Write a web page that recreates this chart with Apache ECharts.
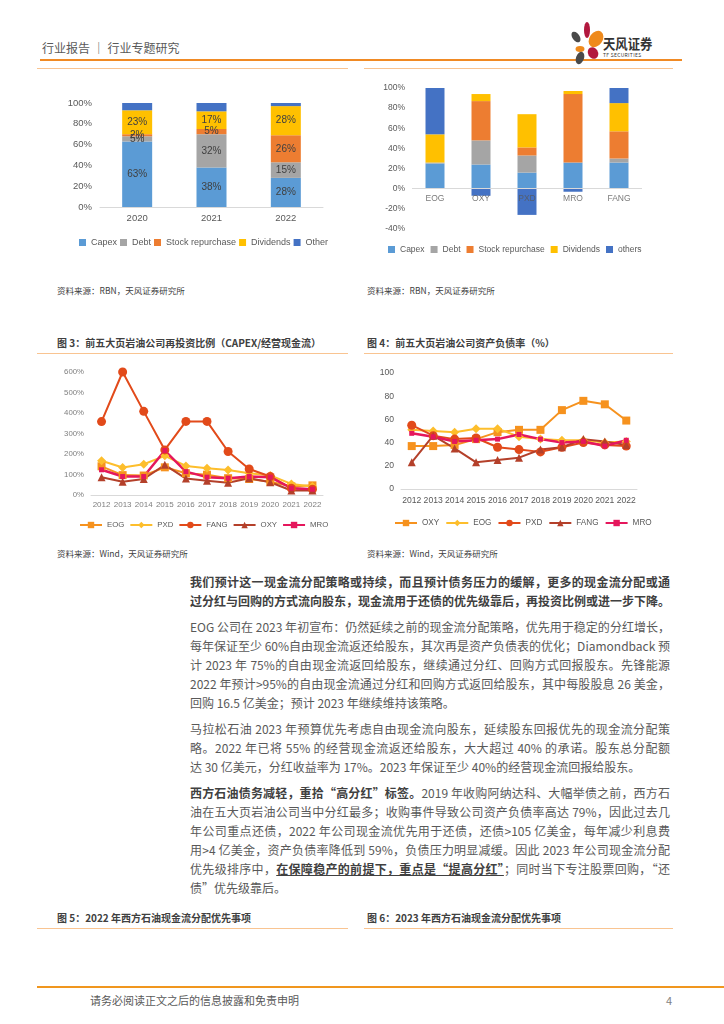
<!DOCTYPE html>
<html><head><meta charset="utf-8">
<script src="https://cdn.jsdelivr.net/npm/echarts@6/dist/echarts.min.js"></script>
<style>
html,body{margin:0;padding:0}
body{width:724px;height:1024px;background:#fff;position:relative;overflow:hidden;font-family:"Noto Sans CJK SC","Noto Sans",sans-serif}
.a{position:absolute}
.hl{position:absolute;height:2px;background:#F08A24}
.ll{position:absolute;height:1px;background:#F9C491}
.src{position:absolute;font-size:8.5px;color:#404040;white-space:nowrap;line-height:12px}
.ft{position:absolute;font-size:10px;font-weight:bold;color:#404040;white-space:nowrap;line-height:14px}
.ln{position:absolute;left:190px;width:480px;height:19px;line-height:19px;font-size:12px;color:#595959;white-space:nowrap;text-align:justify;text-align-last:justify}
.ln.last{text-align:left;text-align-last:left}
.ln.b{font-weight:bold;color:#404040}
b{color:#404040}
.chart{position:absolute}
</style></head>
<body>
<!-- header -->
<div class="a" style="left:42px;top:40px;font-size:12px;color:#595959;white-space:nowrap;line-height:16px">行业报告 ｜ 行业专题研究</div>
<div class="hl" style="left:40px;top:59px;width:642px"></div>
<svg class="a" style="left:566px;top:20px" width="50" height="46" viewBox="0 0 50 46">
  <ellipse cx="10" cy="17" rx="3.6" ry="6" fill="#4a4a4a" transform="rotate(-35 10 17)"/>
  <ellipse cx="21" cy="10" rx="3" ry="8" fill="#B2183E"/>
  <ellipse cx="30" cy="19" rx="6.5" ry="9" fill="#EF8A1C" transform="rotate(35 30 19)"/>
  <ellipse cx="14" cy="29" rx="4.5" ry="3" fill="#EF8A1C"/>
  <ellipse cx="27" cy="33" rx="5" ry="6" fill="#B2183E" transform="rotate(-30 27 33)"/>
  <ellipse cx="14" cy="38" rx="4" ry="6.5" fill="#4a4a4a" transform="rotate(20 14 38)"/>
</svg>
<div class="a" style="left:603px;top:35px;font-size:14px;font-weight:bold;color:#333;white-space:nowrap;line-height:16px;transform:scaleX(0.88);transform-origin:left top">天风证券</div>
<div class="a" style="left:603px;top:52px;font-size:5px;color:#333;white-space:nowrap;line-height:6px;letter-spacing:0.3px">TF SECURITIES</div>
<div class="ll" style="left:37px;top:68px;width:311px"></div>
<div class="ll" style="left:364px;top:68px;width:309px"></div>

<div id="c1" class="chart" style="left:40px;top:75px;width:310px;height:185px"></div>
<div id="c2" class="chart" style="left:355px;top:75px;width:310px;height:185px"></div>

<div class="src" style="left:57px;top:284px">资料来源：RBN，天风证券研究所</div>
<div class="src" style="left:367px;top:284px">资料来源：RBN，天风证券研究所</div>

<div class="ft" style="left:57px;top:336px">图 3：前五大页岩油公司再投资比例（CAPEX/经营现金流）</div>
<div class="ft" style="left:367px;top:336px">图 4：前五大页岩油公司资产负债率（%）</div>
<div class="ll" style="left:37px;top:353px;width:311px"></div>
<div class="ll" style="left:364px;top:353px;width:309px"></div>

<div id="c3" class="chart" style="left:40px;top:360px;width:305px;height:175px"></div>
<div id="c4" class="chart" style="left:360px;top:360px;width:300px;height:175px"></div>

<div class="src" style="left:57px;top:547px">资料来源：Wind，天风证券研究所</div>
<div class="src" style="left:367px;top:547px">资料来源：Wind，天风证券研究所</div>

<!-- body text -->
<div class="ln b" style="top:572px">我们预计这一现金流分配策略或持续，而且预计债务压力的缓解，更多的现金流分配或通</div>
<div class="ln b" style="top:591px">过分红与回购的方式流向股东，现金流用于还债的优先级靠后，再投资比例或进一步下降。</div>

<div class="ln" style="top:617px">EOG 公司在 2023 年初宣布：仍然延续之前的现金流分配策略，优先用于稳定的分红增长，</div>
<div class="ln" style="top:636px">每年保证至少 60%自由现金流返还给股东，其次再是资产负债表的优化；Diamondback 预</div>
<div class="ln" style="top:655px">计 2023 年 75%的自由现金流返回给股东，继续通过分红、回购方式回报股东。先锋能源</div>
<div class="ln" style="top:674px">2022 年预计&gt;95%的自由现金流通过分红和回购方式返回给股东，其中每股股息 26 美金，</div>
<div class="ln last" style="top:693px">回购 16.5 亿美金；预计 2023 年继续维持该策略。</div>

<div class="ln" style="top:719px">马拉松石油 2023 年预算优先考虑自由现金流向股东，延续股东回报优先的现金流分配策</div>
<div class="ln" style="top:738px">略。2022 年已将 55% 的经营现金流返还给股东，大大超过 40% 的承诺。股东总分配额</div>
<div class="ln last" style="top:757px">达 30 亿美元，分红收益率为 17%。2023 年保证至少 40%的经营现金流回报给股东。</div>

<div class="ln" style="top:783px"><b>西方石油债务减轻，重拾“高分红”标签。</b>2019 年收购阿纳达科、大幅举债之前，西方石</div>
<div class="ln" style="top:802px">油在五大页岩油公司当中分红最多；收购事件导致公司资产负债率高达 79%，因此过去几</div>
<div class="ln" style="top:821px">年公司重点还债，2022 年公司现金流优先用于还债，还债&gt;105 亿美金，每年减少利息费</div>
<div class="ln" style="top:840px">用&gt;4 亿美金，资产负债率降低到 59%，负债压力明显减缓。因此 2023 年公司现金流分配</div>
<div class="ln" style="top:859px">优先级排序中，<b style="text-decoration:underline">在保障稳产的前提下，重点是“提高分红”</b>；同时当下专注股票回购，“还</div>
<div class="ln last" style="top:878px">债”优先级靠后。</div>

<div class="ft" style="left:57px;top:911px">图 5：2022 年西方石油现金流分配优先事项</div>
<div class="ft" style="left:367px;top:911px">图 6：2023 年西方石油现金流分配优先事项</div>
<div class="ll" style="left:37px;top:928px;width:311px"></div>
<div class="ll" style="left:364px;top:928px;width:309px"></div>

<div class="a" style="left:37px;top:986px;width:687px;height:2px;background:#F0961E"></div>
<div class="a" style="left:90px;top:993px;font-size:11px;color:#595959;white-space:nowrap;line-height:14px">请务必阅读正文之后的信息披露和免责申明</div>
<div class="a" style="left:666px;top:993px;font-size:11px;color:#808080;line-height:14px">4</div>

<script>
// ---------- data ----------
const c1Years = ['2020', '2021', '2022'];
const c1Capex = [63, 38, 28];
const c1Debt = [5, 32, 15];
const c1Buyback = [2, 5, 26];
const c1Dividends = [23, 17, 28];
const c1Other = [7, 8, 3];

const c2Companies = ['EOG', 'OXY', 'PXD', 'MRO', 'FANG'];
const c2Capex = [25, 24, 16, 26, 26];
const c2Debt = [1, 24, 17, 0, 4];
const c2Buyback = [0, 39, 8, 68, 27];
const c2Dividends = [28, 7, 33, 3, 28];
const c2Others = [46, -7, -26, -3, 15];

const years = ['2012','2013','2014','2015','2016','2017','2018','2019','2020','2021','2022'];
const c3EOG  = [140, 97, 95, 135, 106, 99, 82, 78, 65, 42, 47];
const c3PXD  = [167, 134, 150, 191, 142, 131, 122, 106, 95, 54, 42];
const c3FANG = [358, 600, 408, 220, 359, 359, 212, 127, 90, 33, 28];
const c3OXY  = [87, 65, 78, 147, 80, 69, 60, 82, 62, 22, 22];
const c3MRO  = [123, 90, 90, 217, 114, 87, 82, 90, 87, 33, 28];

const c4OXY  = [37, 37, 38, 43, 49, 51, 51, 68, 76, 73, 59];
const c4EOG  = [51, 50, 49, 52, 52, 45, 43, 42, 42, 40, 41];
const c4PXD  = [55, 46, 43, 44, 36, 34, 32, 36, 40, 38, 37];
const c4FANG = [23, 46, 35, 23, 25, 27, 34, 36, 43, 41, 38];
const c4MRO  = [48, 45, 41, 42, 43, 47, 43, 40, 41, 37, 42];

// ---------- fit text lines ----------
document.querySelectorAll('.ln').forEach(el => {
  const w = el.clientWidth, sw = el.scrollWidth;
  if (sw > w + 0.5) {
    const n = el.textContent.length;
    el.style.letterSpacing = ((w - sw) / n - 0.02) + 'px';
  }
});

const FONT = 'Liberation Sans';
const BLUE = '#5B9BD5', GRAY = '#A5A5A5', ORANGE = '#ED7D31', YELLOW = '#FFC000', DBLUE = '#4472C4';

function barSeries(name, data, color, labelOn, width) {
  return {
    name, type: 'bar', stack: 'a', data, barWidth: width,
    itemStyle: { color },
    label: { show: labelOn, position: 'inside', formatter: p => p.value + '%', color: '#404040', fontSize: 10, fontFamily: FONT },
    emphasis: { disabled: true }
  };
}

// Chart 1
const ch1 = echarts.init(document.getElementById('c1'), null, { renderer: 'canvas' });
ch1.setOption({
  animation: false,
  textStyle: { fontFamily: FONT },
  grid: { left: 60, top: 28, width: 223, height: 104, containLabel: false, outerBoundsMode: 'none' },
  legend: { left: 34, top: 158, width: 300, itemWidth: 7, itemHeight: 7, itemGap: 3, icon: 'rect',
    textStyle: { fontSize: 9, color: '#595959', fontFamily: FONT } },
  xAxis: { type: 'category', data: c1Years, axisLine: { lineStyle: { color: '#D9D9D9' } }, axisTick: { show: false },
    axisLabel: { color: '#595959', fontSize: 9.5, margin: 6 } },
  yAxis: { type: 'value', min: 0, max: 100, interval: 20, splitLine: { show: false }, axisLine: { show: false }, axisTick: { show: false },
    axisLabel: { formatter: '{value}%', color: '#595959', fontSize: 9.5, margin: 8 } },
  series: [
    barSeries('Capex', c1Capex, BLUE, true, 30),
    barSeries('Debt', c1Debt, GRAY, true, 30),
    barSeries('Stock repurchase', c1Buyback, ORANGE, true, 30),
    barSeries('Dividends', c1Dividends, YELLOW, true, 30),
    barSeries('Other', c1Other, DBLUE, false, 30)
  ]
});

// Chart 2
const ch2 = echarts.init(document.getElementById('c2'), null, { renderer: 'canvas' });
const c2Zero = c2Companies.map(() => 0);
ch2.setOption({
  animation: false,
  textStyle: { fontFamily: FONT },
  grid: { left: 57, top: 13, width: 230, height: 141, containLabel: false, outerBoundsMode: 'none' },
  legend: { left: 28, top: 165, width: 290, itemWidth: 7, itemHeight: 7, itemGap: 6, icon: 'rect',
    data: ['Capex', 'Debt', 'Stock repurchase', 'Dividends', 'others'],
    textStyle: { fontSize: 8.5, color: '#595959', fontFamily: FONT } },
  xAxis: { type: 'category', data: c2Companies, axisLine: { show: false }, axisTick: { show: false },
    axisLabel: { show: false } },
  yAxis: { type: 'value', min: -40, max: 100, interval: 20, splitLine: { show: false }, axisLine: { show: false }, axisTick: { show: false },
    axisLabel: { formatter: '{value}%', color: '#595959', fontSize: 8.5, margin: 7 } },
  series: [
    barSeries('Capex', c2Capex, BLUE, false, 19),
    barSeries('Debt', c2Debt, GRAY, false, 19),
    barSeries('Stock repurchase', c2Buyback, ORANGE, false, 19),
    barSeries('Dividends', c2Dividends, YELLOW, false, 19),
    barSeries('others', c2Others, DBLUE, false, 19),
    { name: 'axisCats', type: 'scatter', data: c2Zero, symbolSize: 0, z: 5, silent: true,
      label: { show: true, position: 'bottom', distance: 5, formatter: p => p.name, color: '#595959', fontSize: 8.5, fontFamily: FONT },
      markLine: { silent: true, symbol: 'none', label: { show: false }, lineStyle: { color: '#D9D9D9', type: 'solid', width: 1 },
        data: [{ yAxis: 0 }] } }
  ]
});

function lineSeries(name, data, color, symbol, size, width) {
  return { name, type: 'line', data, symbol, symbolSize: size, showSymbol: true,
    lineStyle: { color, width: width || 2 }, itemStyle: { color }, emphasis: { disabled: true } };
}
const C_ORANGE = '#F6921E', C_YEL = '#FDBE2C', C_RED = '#E24A1A', C_BRN = '#B4402A', C_MAG = '#E5175C';

// Chart 3
const ch3 = echarts.init(document.getElementById('c3'), null, { renderer: 'canvas' });
ch3.setOption({
  animation: false,
  textStyle: { fontFamily: FONT },
  grid: { left: 51, top: 12, width: 232, height: 123, containLabel: false, outerBoundsMode: 'none' },
  legend: { left: 34, top: 156, width: 300, itemWidth: 22, itemHeight: 8, itemGap: 5,
    textStyle: { fontSize: 7.8, color: '#595959', fontFamily: FONT } },
  xAxis: { type: 'category', data: years, axisLine: { lineStyle: { color: '#D9D9D9' } }, axisTick: { show: false },
    axisLabel: { color: '#7F7F7F', fontSize: 8, margin: 6, interval: 0 } },
  yAxis: { type: 'value', min: 0, max: 600, interval: 100, splitLine: { show: false }, axisLine: { show: false }, axisTick: { show: false },
    axisLabel: { formatter: '{value}%', color: '#7F7F7F', fontSize: 7.8, margin: 7 } },
  series: [
    lineSeries('EOG', c3EOG, C_ORANGE, 'rect', 8),
    lineSeries('PXD', c3PXD, C_YEL, 'diamond', 9),
    lineSeries('FANG', c3FANG, C_RED, 'circle', 9),
    lineSeries('OXY', c3OXY, C_BRN, 'triangle', 8),
    lineSeries('MRO', c3MRO, C_MAG, 'rect', 5, 2.5)
  ]
});

// Chart 4
const ch4 = echarts.init(document.getElementById('c4'), null, { renderer: 'canvas' });
ch4.setOption({
  animation: false,
  textStyle: { fontFamily: FONT },
  grid: { left: 41, top: 13, width: 236, height: 116, containLabel: false, outerBoundsMode: 'none' },
  legend: { left: 29, top: 154, width: 280, itemWidth: 22, itemHeight: 8, itemGap: 6,
    textStyle: { fontSize: 8.2, color: '#595959', fontFamily: FONT } },
  xAxis: { type: 'category', data: years, axisLine: { lineStyle: { color: '#D9D9D9' } }, axisTick: { show: false },
    axisLabel: { color: '#595959', fontSize: 8.6, margin: 7, interval: 0 } },
  yAxis: { type: 'value', min: 0, max: 100, interval: 20, splitLine: { show: false }, axisLine: { show: false }, axisTick: { show: false },
    axisLabel: { color: '#595959', fontSize: 8.6, margin: 7 } },
  series: [
    lineSeries('OXY', c4OXY, C_ORANGE, 'rect', 8),
    lineSeries('EOG', c4EOG, C_YEL, 'diamond', 9),
    lineSeries('PXD', c4PXD, C_RED, 'circle', 9),
    lineSeries('FANG', c4FANG, C_BRN, 'triangle', 8),
    lineSeries('MRO', c4MRO, C_MAG, 'rect', 5, 2.5)
  ]
});
</script>
</body></html>
